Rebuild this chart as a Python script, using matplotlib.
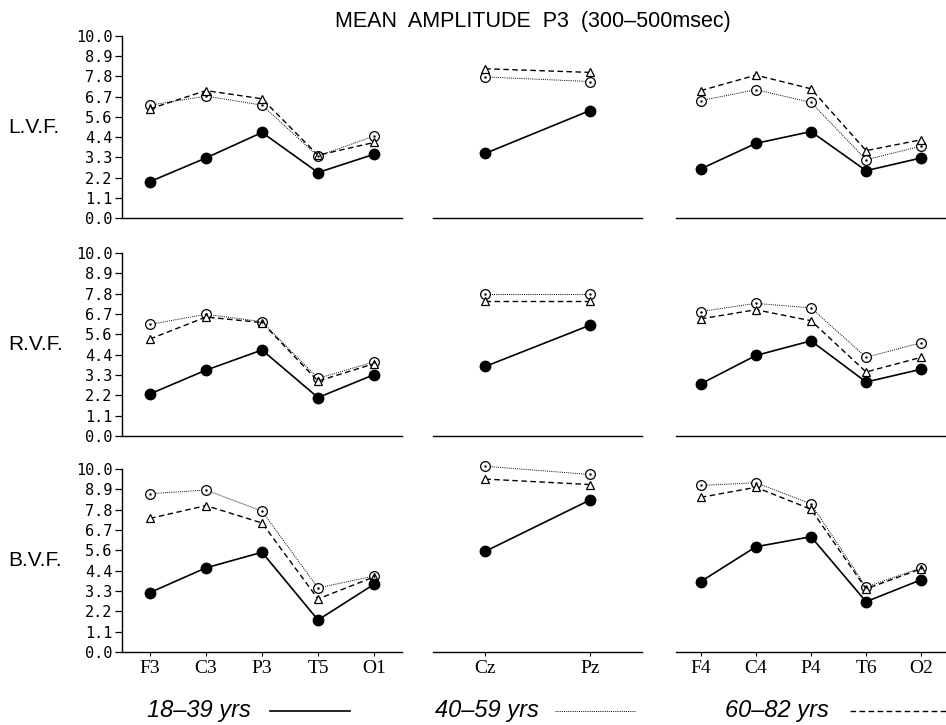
import numpy as np
import matplotlib
matplotlib.use('Agg')
import matplotlib.pyplot as plt
from matplotlib.lines import Line2D

# electrode sites per panel column
left_sites = ['F3', 'C3', 'P3', 'T5', 'O1']
mid_sites = ['Cz', 'Pz']
right_sites = ['F4', 'C4', 'P4', 'T6', 'O2']

rows = ['L.V.F.', 'R.V.F.', 'B.V.F.']
groups = ['18\u201339 yrs', '40\u201359 yrs', '60\u201382 yrs']

# values: [row][group] -> list over sites
left_vals = [
    [[2.0, 3.3, 4.7, 2.5, 3.5], [6.2, 6.7, 6.2, 3.4, 4.5], [6.0, 7.0, 6.55, 3.45, 4.15]],
    [[2.3, 3.6, 4.7, 2.1, 3.35], [6.1, 6.65, 6.25, 3.15, 4.05], [5.3, 6.5, 6.2, 3.0, 3.95]],
    [[3.25, 4.6, 5.45, 1.75, 3.7], [8.65, 8.85, 7.7, 3.5, 4.15], [7.3, 8.0, 7.05, 2.9, 4.1]],
]
mid_vals = [
    [[3.55, 5.9], [7.75, 7.5], [8.2, 8.0]],
    [[3.8, 6.05], [7.75, 7.75], [7.4, 7.4]],
    [[5.5, 8.3], [10.15, 9.7], [9.45, 9.15]],
]
right_vals = [
    [[2.7, 4.1, 4.75, 2.6, 3.3], [6.45, 7.05, 6.35, 3.2, 3.95], [7.0, 7.85, 7.1, 3.7, 4.3]],
    [[2.85, 4.4, 5.2, 2.95, 3.65], [6.8, 7.25, 7.0, 4.3, 5.1], [6.4, 6.9, 6.3, 3.5, 4.3]],
    [[3.85, 5.75, 6.3, 2.75, 3.95], [9.1, 9.25, 8.1, 3.55, 4.6], [8.45, 9.0, 7.8, 3.45, 4.55]],
]

yticks = np.linspace(0, 10, 10)

W, H = 946, 725
fig = plt.figure(figsize=(W / 100, H / 100), dpi=100)

# pixel boxes (left, right) for columns, (top, bottom) for rows
col_px = [(122, 402), (433, 642), (676, 946)]
row_px = [(36, 218), (253, 436), (469, 652)]
col_lims = [(-0.5, 4.5), (-0.5, 1.5), (-0.45, 4.45)]
col_sites = [left_sites, mid_sites, right_sites]
col_vals = [left_vals, mid_vals, right_vals]

styles = [
    dict(color='black', lw=1.2, ls='-', marker='o', ms=7.5, mfc='black', mec='black'),
    dict(color='black', lw=0.7, ls=(0, (1, 1.2)), marker='o', ms=7, mfc='white', mec='black', mew=0.9),
    dict(color='black', lw=1.0, ls=(0, (4, 2.5)), marker='^', ms=6, mfc='white', mec='black', mew=0.9),
]

for r, (top, bot) in enumerate(row_px):
    for c, (lft, rgt) in enumerate(col_px):
        ax = fig.add_axes([lft / W, 1 - bot / H, (rgt - lft) / W, (bot - top) / H])
        sites = col_sites[c]
        x = np.arange(len(sites))
        vals = col_vals[c][r]
        # dotted and dashed first, solid on top
        for g in [1, 2, 0]:
            ax.plot(x, vals[g], clip_on=False, zorder=3 if g == 0 else 2, **styles[g])
            if g == 1:
                ax.plot(x, vals[g], ls='none', marker='.', ms=1.5, color='black',
                        clip_on=False, zorder=2.5)
        ax.set_xlim(*col_lims[c])
        ax.set_ylim(0, 10)
        for s in ['top', 'right']:
            ax.spines[s].set_visible(False)
        ax.spines['bottom'].set_linewidth(1.0)
        if c == 0:
            ax.spines['left'].set_linewidth(1.0)
            ax.set_yticks(yticks)
            ax.set_yticklabels(['%.1f' % v for v in yticks], fontfamily='DejaVu Sans Mono',
                               fontsize=11)
            ax.tick_params(axis='y', length=5, width=0.9, pad=2)
            ax.text(-0.405, 0.5, rows[r], transform=ax.transAxes, fontsize=15,
                    fontfamily='Liberation Sans', ha='left', va='center')
        else:
            ax.spines['left'].set_visible(False)
            ax.set_yticks([])
        ax.set_xticks(x)
        if r == 2:
            ax.set_xticklabels(sites, fontfamily='Liberation Serif', fontsize=14)
            ax.tick_params(axis='x', length=3, width=0.8, pad=3)
        else:
            ax.set_xticklabels([])
            ax.tick_params(axis='x', length=0)

fig.text(533 / W, 1 - 22 / H, 'MEAN  AMPLITUDE  P3  (300\u2013500msec)', ha='center',
         va='center', fontsize=15.5, fontfamily='Liberation Sans')

# legend row at the bottom
leg_text_x = [147, 435, 725]
leg_line_x = [(270, 350), (555, 635), (850, 946)]
leg_y = 1 - 711 / H
for g in range(3):
    fig.text(leg_text_x[g] / W, leg_y, groups[g], ha='left', va='center', fontsize=17,
             fontstyle='italic', fontfamily='Liberation Sans')
    x0, x1 = leg_line_x[g]
    st = styles[g]
    fig.add_artist(Line2D([x0 / W, x1 / W], [leg_y, leg_y], transform=fig.transFigure,
                          color='black', lw=st['lw'], ls=st['ls']))

fig.savefig('out.png', dpi=100, facecolor='white')
